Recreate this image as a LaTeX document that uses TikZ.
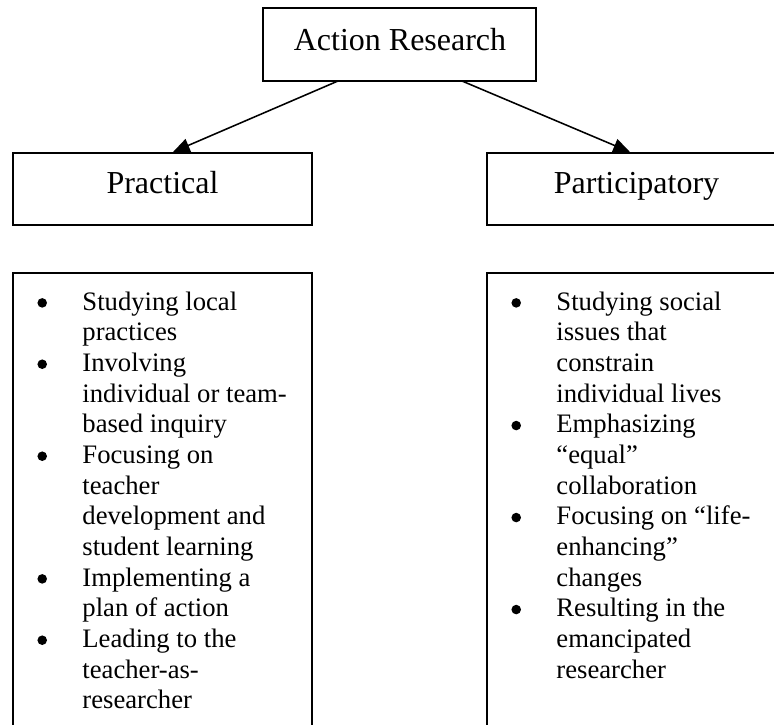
\documentclass[tikz,border=0pt]{standalone}
\usepackage{fontspec}
\setmainfont{Liberation Serif}
\usetikzlibrary{arrows.meta,calc}
\tikzset{
  box/.style={draw=black, line width=0.75pt, inner sep=0pt, outer sep=0pt, anchor=north west},
  heading/.style={inner sep=0pt, anchor=base, font=\fontsize{14.4pt}{17pt}\selectfont},
  listtext/.style={inner sep=0pt, anchor=base west, align=left, font=\fontsize{12pt}{13.8pt}\selectfont},
  link/.style={draw=black, line width=0.7pt, -{Triangle[length=7.5pt,width=6.2pt]}}
}
\newcommand\bul{\tikz[baseline=0pt]{\path (0pt,0pt); \fill (2.6pt,3.2pt) circle (2.15pt);}}
\begin{document}
\begin{tikzpicture}[x=0.45pt,y=-0.45pt]
\useasboundingbox (0,0) rectangle (774,725);
\clip (0,0) rectangle (774,725);
% boxes
\node[box, minimum width=273*0.45pt, minimum height=73*0.45pt] (ar) at (263,8) {};
\node[box, minimum width=299*0.45pt, minimum height=72*0.45pt] (prac) at (13,153) {};
\node[box, minimum width=299*0.45pt, minimum height=72*0.45pt] (part) at (487,153) {};
\node[box, minimum width=299*0.45pt, minimum height=500*0.45pt] (pl) at (13,273) {};
\node[box, minimum width=299*0.45pt, minimum height=500*0.45pt] (ql) at (487,273) {};
% headings
\node[heading] (art) at (400,50) {Action Research};
\node[heading] (pract) at (162.5,193) {Practical};
\node[heading] (partt) at (636.5,193) {Participatory};
% arrows
\draw[link] ($(ar.south west)+(75,0)$) -- ($(prac.north west)+(160,-1)$);
\draw[link] ($(ar.south west)+(199,0)$) -- ($(part.north west)+(143,-1)$);
% lists
\node[listtext] (pll) at (36,310) {%
\begin{tabular}[t]{@{}p{20.7pt}@{}l@{}}
\bul & Studying local\\
 & practices\\
\bul & Involving\\
 & individual or team-\\
 & based inquiry\\
\bul & Focusing on\\
 & teacher\\
 & development and\\
 & student learning\\
\bul & Implementing a\\
 & plan of action\\
\bul & Leading to the\\
 & teacher-as-\\
 & researcher
\end{tabular}};
\node[listtext] (qll) at (510,310) {%
\begin{tabular}[t]{@{}p{20.7pt}@{}l@{}}
\bul & Studying social\\
 & issues that\\
 & constrain\\
 & individual lives\\
\bul & Emphasizing\\
 & “equal”\\
 & collaboration\\
\bul & Focusing on “life-\\
 & enhancing”\\
 & changes\\
\bul & Resulting in the\\
 & emancipated\\
 & researcher
\end{tabular}};
\end{tikzpicture}
\end{document}
